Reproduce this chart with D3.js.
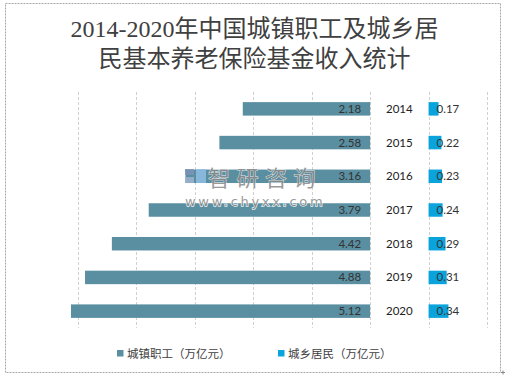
<!DOCTYPE html>
<html><head><meta charset="utf-8">
<script src="https://cdn.jsdelivr.net/npm/d3@7"></script>
<style>html,body{margin:0;padding:0;background:#fff;}</style>
</head><body>
<script>
const years = ["2014","2015","2016","2017","2018","2019","2020"];
const urbanWorkers = [2.18, 2.58, 3.16, 3.79, 4.42, 4.88, 5.12];
const ruralResidents = [0.17, 0.22, 0.23, 0.24, 0.29, 0.31, 0.34];
const seriesNames = ["城镇职工（万亿元）", "城乡居民（万亿元）"];
const titleLines = ["2014-2020年中国城镇职工及城乡居", "民基本养老保险基金收入统计"];
const gridTicks = [-5, -4, -3, -2, -1, 0, 1, 2];

const W = 505, H = 377;
const colors = ["#5a8fa1", "#0aa3dc"];
const svg = d3.select("body").append("svg").attr("width", W).attr("height", H);

// border
svg.append("rect").attr("x", 5.5).attr("y", 3.5).attr("width", 495).attr("height", 369)
  .attr("fill", "none").attr("stroke", "#a6a6a6").attr("stroke-dasharray", "2,1");
svg.append("path").attr("d", "M501,372.5h4M503,370.5v4").attr("stroke", "#888");

// title
svg.append("g").selectAll("text").data(titleLines).join("text")
  .attr("x", W / 2 + 2).attr("y", (d, i) => 37 + i * 30)
  .attr("text-anchor", "middle")
  .attr("font-family", "'Liberation Serif','Noto Sans CJK SC',serif")
  .attr("font-size", 24).attr("fill", "#404040")
  .text(d => d);

const x = d3.scaleLinear().domain([-5, 2]).range([78, 487]);
const y = d3.scaleBand().domain(years).range([92, 328]).paddingInner(0.6).paddingOuter(0.3);

// grid
svg.append("g").selectAll("line").data(gridTicks).join("line")
  .attr("x1", d => Math.round(x(d)) + 0.5).attr("x2", d => Math.round(x(d)) + 0.5)
  .attr("y1", 92).attr("y2", 328)
  .attr("stroke", "#d0d0d0").attr("stroke-dasharray", "3,2");

// left bars
svg.append("g").selectAll("rect").data(years).join("rect")
  .attr("x", (d, i) => x(-urbanWorkers[i])).attr("y", d => y(d))
  .attr("width", (d, i) => x(0) - x(-urbanWorkers[i])).attr("height", y.bandwidth())
  .attr("fill", colors[0]);
// right bars
svg.append("g").selectAll("rect").data(years).join("rect")
  .attr("x", x(1)).attr("y", d => y(d))
  .attr("width", (d, i) => x(1 + ruralResidents[i]) - x(1)).attr("height", y.bandwidth())
  .attr("fill", colors[1]);

const lblFont = "Lato,'Liberation Sans',sans-serif";
svg.append("g").selectAll("text").data(years).join("text")
  .attr("x", x(0) - 9).attr("y", d => y(d) + y.bandwidth() / 2 + 4)
  .attr("text-anchor", "end").attr("font-family", lblFont).attr("font-size", 11.5)
  .attr("fill", "#333").text((d, i) => urbanWorkers[i].toFixed(2));
svg.append("g").selectAll("text").data(years).join("text")
  .attr("x", x(0.5)).attr("y", d => y(d) + y.bandwidth() / 2 + 4)
  .attr("text-anchor", "middle").attr("font-family", lblFont).attr("font-size", 11.5)
  .attr("fill", "#222").text(d => d);
svg.append("g").selectAll("text").data(years).join("text")
  .attr("x", x(1) + 8).attr("y", d => y(d) + y.bandwidth() / 2 + 4)
  .attr("text-anchor", "start").attr("font-family", lblFont).attr("font-size", 11.5)
  .attr("fill", "#333").text((d, i) => ruralResidents[i].toFixed(2));

// watermark
const wm = svg.append("g").attr("opacity", 0.85);
wm.append("rect").attr("x", 185).attr("y", 169).attr("width", 9).attr("height", 6).attr("fill", "#7d93b8");
wm.append("rect").attr("x", 185).attr("y", 177).attr("width", 9).attr("height", 6).attr("fill", "#9fb3cf");
wm.append("rect").attr("x", 196).attr("y", 169).attr("width", 10).attr("height", 14).attr("fill", "#8fc0e6");
wm.append("text").attr("x", 208).attr("y", 186)
  .attr("font-family", "'Noto Sans CJK SC',sans-serif").attr("font-size", 22)
  .attr("letter-spacing", 6.5).attr("fill", "#8a8a8a")
  .attr("stroke", "#fff").attr("stroke-width", 0.8).attr("paint-order", "stroke")
  .text("智研咨询");
wm.append("text").attr("x", 185).attr("y", 206)
  .attr("font-family", "'DejaVu Sans',sans-serif").attr("font-size", 13)
  .attr("letter-spacing", 2.7).attr("fill", "#8a8a8a")
  .attr("stroke", "#fff").attr("stroke-width", 1.5).attr("paint-order", "stroke")
  .text("www.chyxx.com");

// legend
const legX = [117, 278];
const leg = svg.append("g").selectAll("g").data(seriesNames).join("g")
  .attr("transform", (d, i) => `translate(${legX[i]},350)`);
leg.append("rect").attr("width", 6.5).attr("height", 6.5).attr("fill", (d, i) => colors[i]);
leg.append("text").attr("x", 10).attr("y", 7.5)
  .attr("font-family", "'Noto Sans CJK SC',sans-serif").attr("font-size", 11.5)
  .attr("fill", "#404040").text(d => d);
</script>
</body></html>
